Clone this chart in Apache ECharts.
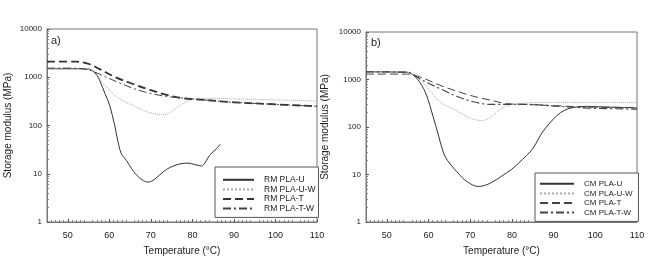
<!DOCTYPE html>
<html>
<head>
<meta charset="utf-8">
<script src="https://cdn.jsdelivr.net/npm/echarts@6/dist/echarts.min.js"></script>
<style>
  html, body { margin: 0; padding: 0; background: #fff; }
  #chart { width: 653px; height: 261px; }
</style>
</head>
<body>
<div id="chart"></div>
<script>
// panel a) RM samples
const rmUTemp = [45, 50, 55, 56, 57, 57.7, 59, 60.1, 61.3, 62.1, 62.9, 64.1, 65.3, 66.5, 68.2, 69.4, 71, 73, 74.6, 77, 79, 80.6, 82.2, 83, 84.2, 85.8, 86.7];
const rmU = [1500, 1500, 1480, 1350, 1100, 850, 450, 260, 100, 46, 26, 19, 13, 9.5, 7.2, 6.7, 7.8, 11, 13.5, 16, 16.6, 15.5, 14.5, 16.6, 24.5, 33, 41];
const rmUWTemp = [45, 55, 56.5, 58, 60.1, 62.5, 65.7, 68.9, 71.3, 73.3, 75.3, 77.3, 79.3, 81.7, 85, 90, 100, 110];
const rmUW = [1500, 1480, 1300, 850, 530, 355, 260, 195, 173, 168, 205, 270, 330, 365, 365, 355, 340, 320];
const rmTTemp = [45, 52, 55.3, 57.7, 61.7, 65.7, 69.8, 73.8, 77.8, 81.8, 89.8, 97.8, 110];
const rmT = [2100, 2100, 1860, 1470, 985, 725, 545, 430, 365, 345, 303, 280, 250];
const rmTWTemp = [45, 52, 55.3, 57.7, 61.7, 65.7, 69.8, 73.8, 77.8, 81.8, 89.8, 97.8, 110];
const rmTW = [1550, 1540, 1400, 1150, 815, 590, 465, 400, 370, 345, 303, 280, 250];

// panel b) CM samples
const cmUTemp = [45, 55, 56.3, 57.9, 59.5, 61.1, 62.3, 63.5, 64.5, 66.8, 69.2, 72, 74.7, 77.9, 80, 81.5, 83.5, 85.1, 86.3, 87.5, 89.9, 91, 92.3, 93.7, 95.5, 97.9, 100, 110];
const cmU = [1450, 1420, 1250, 880, 470, 165, 71, 30, 20, 11.4, 7.1, 5.6, 6.5, 9.7, 13, 17, 25, 36, 55, 82, 146, 180, 218, 245, 263, 272, 268, 252];
const cmUWTemp = [45, 55, 56.3, 57.9, 60.3, 62.7, 66.7, 69.9, 72.7, 74.7, 77.1, 79.5, 81.5, 85, 90, 100, 110];
const cmUW = [1450, 1420, 1250, 1030, 590, 340, 220, 155, 137, 155, 230, 290, 310, 325, 330, 330, 325];
const cmTTemp = [45, 55, 56.3, 58.7, 62.7, 66.7, 70.7, 74.7, 78.7, 82.7, 90.7, 98.7, 110];
const cmT = [1300, 1300, 1250, 1070, 760, 570, 445, 370, 310, 300, 280, 262, 258];
const cmTWTemp = [45, 55, 56.3, 58.7, 62.7, 66.7, 70.7, 74.7, 78.7, 82.7, 90.7, 98.7, 110];
const cmTW = [1450, 1420, 1260, 950, 645, 445, 340, 300, 300, 300, 275, 250, 238];

// axis tick labels
const tempTicks = [50, 60, 70, 80, 90, 100, 110];

const font = 'Liberation Sans, Arial, sans-serif';
const pairs = (xs, ys) => xs.map((x, i) => [x, ys[i]]);

const chart = echarts.init(document.getElementById('chart'), null, { renderer: 'canvas' });

const xAxisBase = (gridIndex) => ({
  gridIndex,
  type: 'value',
  min: 45,
  max: 110,
  interval: 5,
  name: 'Temperature (°C)',
  nameLocation: 'middle',
  nameGap: 24,
  nameTextStyle: { fontFamily: font, fontSize: 10, color: '#222' },
  axisLine: { lineStyle: { color: '#777' } },
  axisTick: { inside: true, length: 3, customValues: tempTicks, lineStyle: { color: '#555' } },
  minorTick: { show: true, splitNumber: 5, length: 2, lineStyle: { color: '#888' } },
  axisLabel: { fontFamily: font, fontSize: 9, color: '#222', margin: 9, customValues: tempTicks },
  splitLine: { show: false },
});

const yAxisBase = (gridIndex, gap) => ({
  gridIndex,
  type: 'log',
  logBase: 10,
  min: 1,
  max: 10000,
  name: 'Storage modulus (MPa)',
  nameLocation: 'middle',
  nameGap: gap,
  nameTextStyle: { fontFamily: font, fontSize: 10, color: '#222' },
  axisLine: { lineStyle: { color: '#777' } },
  axisTick: { inside: true, length: 3, lineStyle: { color: '#555' } },
  minorTick: { show: true, splitNumber: 9, length: 2, lineStyle: { color: '#888' } },
  axisLabel: { fontFamily: font, fontSize: 8, color: '#222', margin: 5, formatter: (v) => String(v) },
  splitLine: { show: false },
});

const mkSeries = (name, xs, ys, idx, style) => ({
  name,
  type: 'line',
  xAxisIndex: idx,
  yAxisIndex: idx,
  data: pairs(xs, ys),
  smooth: 0.35,
  symbol: 'none',
  lineStyle: style,
  itemStyle: { color: style.color },
});

const legendBase = (left, top, names, fontSize, padding, itemWidth) => ({
  left, top,
  orient: 'vertical',
  data: names,
  itemWidth,
  itemHeight: 8,
  itemGap: 0,
  padding,
  borderColor: '#555',
  borderWidth: 1,
  borderRadius: 0,
  backgroundColor: '#fff',
  itemStyle: { color: 'rgba(0,0,0,0)', borderColor: 'rgba(0,0,0,0)', borderWidth: 0 },
  textStyle: { fontFamily: font, fontSize, color: '#222', lineHeight: 9.6, padding: [0, 0, 0, 5] },
});

const option = {
  animation: false,
  backgroundColor: '#fff',
  grid: [
    { left: 47, top: 29, width: 270, height: 195, show: true, borderColor: '#777', borderWidth: 1, backgroundColor: 'transparent' },
    { left: 366, top: 32, width: 271, height: 195, show: true, borderColor: '#777', borderWidth: 1, backgroundColor: 'transparent' },
  ],
  xAxis: [xAxisBase(0), xAxisBase(1)],
  yAxis: [yAxisBase(0, 34), yAxisBase(1, 36)],
  legend: [
    legendBase(215, 167, ['RM PLA-U', 'RM PLA-U-W', 'RM PLA-T', 'RM PLA-T-W'], 8.5, [8, 3, 4, 7], 31),
    legendBase(535, 173, ['CM PLA-U', 'CM PLA-U-W', 'CM PLA-T', 'CM PLA-T-W'], 8, [6, 6, 4, 4], 34),
  ],
  graphic: [
    { type: 'text', left: 51, top: 35, style: { text: 'a)', font: '11px ' + font, fill: '#222' } },
    { type: 'text', left: 371, top: 37, style: { text: 'b)', font: '11px ' + font, fill: '#222' } },
  ],
  series: [
    mkSeries('RM PLA-U', rmUTemp, rmU, 0, { color: '#333', width: 1, type: 'solid' }),
    mkSeries('RM PLA-U-W', rmUWTemp, rmUW, 0, { color: '#aaa', width: 1, type: 'dotted' }),
    mkSeries('RM PLA-T', rmTTemp, rmT, 0, { color: '#333', width: 1.8, type: [8, 4] }),
    mkSeries('RM PLA-T-W', rmTWTemp, rmTW, 0, { color: '#444', width: 1, type: [8, 3, 2, 3] }),
    mkSeries('CM PLA-U', cmUTemp, cmU, 1, { color: '#333', width: 1, type: 'solid' }),
    mkSeries('CM PLA-U-W', cmUWTemp, cmUW, 1, { color: '#aaa', width: 1, type: 'dotted' }),
    mkSeries('CM PLA-T', cmTTemp, cmT, 1, { color: '#444', width: 1, type: [8, 4] }),
    mkSeries('CM PLA-T-W', cmTWTemp, cmTW, 1, { color: '#444', width: 1.2, type: [8, 3, 2, 3] }),
  ],
};

chart.setOption(option);
</script>
</body>
</html>
